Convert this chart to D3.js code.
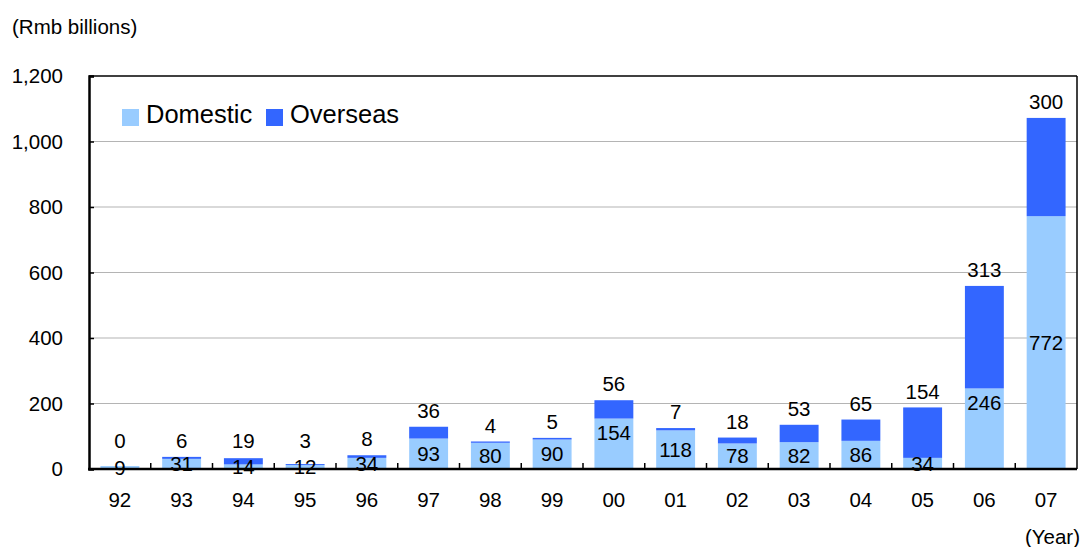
<!DOCTYPE html>
<html>
<head>
<meta charset="utf-8">
<script src="https://cdn.jsdelivr.net/npm/d3@7"></script>
<style>
  html, body { margin: 0; padding: 0; background: #fff; }
  svg text { font-family: "Liberation Sans", Arial, sans-serif; fill: #000; }
</style>
</head>
<body>
<svg id="chart" width="1081" height="547"></svg>
<script>
// Investment by year, Rmb billions
const years = ["92","93","94","95","96","97","98","99","00","01","02","03","04","05","06","07"];
const domestic = [9, 31, 14, 12, 34, 93, 80, 90, 154, 118, 78, 82, 86, 34, 246, 772];
const overseas = [0, 6, 19, 3, 8, 36, 4, 5, 56, 7, 18, 53, 65, 154, 313, 300];
const yTicks = [0, 200, 400, 600, 800, 1000, 1200];
const seriesNames = ["Domestic", "Overseas"];
const colors = ["#99CCFF", "#3366FF"];
// years whose domestic label sits near the top of its segment
const topLabelYears = new Set(["00", "06"]);

const svg = d3.select("#chart");
const plotLeft = 89, plotRight = 1077, plotTop = 76, plotBottom = 469;

const x = d3.scaleBand().domain(years).range([plotLeft, plotRight])
  .paddingInner(0.37).paddingOuter(0.185);
const y = d3.scaleLinear().domain([0, 1200]).range([plotBottom, plotTop]);

const rows = years.map((yr, i) => ({ year: yr, Domestic: domestic[i], Overseas: overseas[i] }));
const stacked = d3.stack().keys(seriesNames)(rows);

// gridlines
svg.append("g").selectAll("line")
  .data(yTicks.filter(t => t > 0 && t < 1200))
  .join("line")
  .attr("x1", plotLeft).attr("x2", plotRight)
  .attr("y1", d => y(d)).attr("y2", d => y(d))
  .attr("stroke", "#b4b4b4").attr("stroke-width", 1.2);

// bars
svg.append("g").selectAll("g")
  .data(stacked)
  .join("g")
  .attr("fill", (d, i) => colors[i])
  .selectAll("rect")
  .data(d => d)
  .join("rect")
  .attr("x", d => x(d.data.year))
  .attr("width", x.bandwidth())
  .attr("y", d => y(d[1]))
  .attr("height", d => y(d[0]) - y(d[1]));

// frame: top and right thin, left and bottom axes thick
svg.append("line").attr("x1", plotLeft).attr("x2", plotRight).attr("y1", plotTop).attr("y2", plotTop)
  .attr("stroke", "#000").attr("stroke-width", 1.3);
svg.append("line").attr("x1", plotRight).attr("x2", plotRight).attr("y1", plotTop).attr("y2", plotBottom)
  .attr("stroke", "#000").attr("stroke-width", 1.5);

// y axis
const yAxis = svg.append("g").attr("transform", `translate(${plotLeft},0)`)
  .call(d3.axisLeft(y).tickValues(yTicks).tickSize(-5).tickPadding(26)
    .tickFormat(d3.format(",")));
yAxis.select(".domain").attr("stroke", "#000").attr("stroke-width", 2.5);
yAxis.selectAll(".tick line").attr("stroke", "#000").attr("stroke-width", 1.5);
yAxis.selectAll("text").attr("font-size", "20.5px").attr("fill", "#000")
  .attr("font-family", "Liberation Sans, Arial, sans-serif");

// x axis: ticks between categories, labels beneath
const xg = svg.append("g");
xg.append("line").attr("x1", plotLeft - 1).attr("x2", plotRight).attr("y1", plotBottom).attr("y2", plotBottom)
  .attr("stroke", "#000").attr("stroke-width", 2.5);
const step = x.step();
xg.selectAll("line.tk")
  .data(years.slice(1))
  .join("line").attr("class", "tk")
  .attr("x1", d => x(d) - step * x.paddingInner() / 2)
  .attr("x2", d => x(d) - step * x.paddingInner() / 2)
  .attr("y1", plotBottom).attr("y2", plotBottom - 6)
  .attr("stroke", "#000").attr("stroke-width", 1.5);
xg.selectAll("text")
  .data(years)
  .join("text")
  .attr("x", d => x(d) + x.bandwidth() / 2)
  .attr("y", 500)
  .attr("dy", "0.35em")
  .attr("text-anchor", "middle")
  .attr("font-size", "20.5px")
  .text(d => d);

// value labels
const lab = svg.append("g").attr("font-size", "20.5px").attr("text-anchor", "middle");
rows.forEach(r => {
  const cx = x(r.year) + x.bandwidth() / 2;
  const dTop = y(r.Domestic);
  const dy = topLabelYears.has(r.year) ? dTop + 14 : (dTop + y(0)) / 2;
  lab.append("text").attr("x", cx).attr("y", dy).attr("dy", "0.35em").text(r.Domestic);
  const oTop = y(r.Domestic + r.Overseas);
  lab.append("text").attr("x", cx).attr("y", Math.min(oTop - 16, 441)).attr("dy", "0.35em")
    .text(r.Overseas);
});

// legend
const legend = svg.append("g");
const legendX = [122, 266];
seriesNames.forEach((name, i) => {
  legend.append("rect").attr("x", legendX[i]).attr("y", 109).attr("width", 17).attr("height", 17)
    .attr("fill", colors[i]);
  legend.append("text").attr("x", legendX[i] + 24).attr("y", 114.5).attr("dy", "0.35em")
    .attr("font-size", "25.5px").text(name);
});

// unit captions
svg.append("text").attr("x", 12).attr("y", 27).attr("dy", "0.35em")
  .attr("font-size", "20.5px").text("(Rmb billions)");
svg.append("text").attr("x", 1080).attr("y", 537).attr("dy", "0.35em")
  .attr("text-anchor", "end").attr("font-size", "20.5px").text("(Year)");
</script>
</body>
</html>
